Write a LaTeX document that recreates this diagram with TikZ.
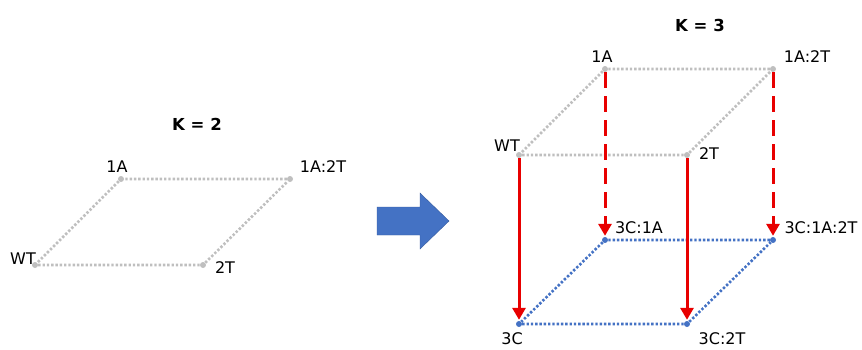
\documentclass[tikz,border=0pt]{standalone}
\usepackage{fontspec}
\setmainfont{DejaVu Sans}
\usetikzlibrary{arrows.meta}
\definecolor{edgegray}{RGB}{191,191,191}
\definecolor{cubeblue}{RGB}{68,114,196}
\definecolor{arrowblue}{RGB}{68,114,196}
\definecolor{shiftred}{RGB}{232,0,0}
\tikzset{
  lbl/.style={font=\fontsize{16}{18}\selectfont, inner sep=0pt},
  title/.style={font=\bfseries\fontsize{16.5}{19}\selectfont, inner sep=0pt},
  grayedge/.style={draw=edgegray, line width=2.6pt, dash pattern=on 2.4pt off 1.9pt},
  blueedge/.style={draw=cubeblue, line width=2.6pt, dash pattern=on 2.4pt off 1.9pt},
  graydot/.style={circle, fill=edgegray, inner sep=0pt, minimum size=6pt},
  bluedot/.style={circle, fill=cubeblue, inner sep=0pt, minimum size=6pt},
  redarrow/.style={draw=shiftred, line width=3pt, -{Triangle[width=13pt,length=12pt]}, shorten >=1pt},
  reddashed/.style={redarrow, dash pattern=on 16pt off 8pt},
}
\begin{document}
\begin{tikzpicture}[x=1pt, y=-1pt]
  \useasboundingbox (0,0) rectangle (862,349);

  % K = 2: the square face
  \node[title] (k2) at (197,124) {K = 2};
  \node[graydot] (lWT)   at (35,265)  {};
  \node[graydot] (l2T)   at (203,265) {};
  \node[graydot] (l1A)   at (121,179) {};
  \node[graydot] (l1A2T) at (290,179) {};
  \draw[grayedge] (lWT) -- (l2T) -- (l1A2T) -- (l1A) -- (lWT);
  \node[lbl] (tlWT)   at (23,259)  {WT};
  \node[lbl] (tl2T)   at (225,268) {2T};
  \node[lbl] (tl1A)   at (117,167) {1A};
  \node[lbl] (tl1A2T) at (323,167) {1A:2T};

  % block arrow
  \fill[arrowblue, draw=arrowblue!80!black, line width=0.4pt]
    (377,207) -- (420,207) -- (420,193) -- (449,221) -- (420,249) -- (420,235) -- (377,235) -- cycle;

  % K = 3: the cube
  \node[title] (k3) at (700,25) {K = 3};
  \node[graydot] (rWT)   at (519,155) {};
  \node[graydot] (r2T)   at (687,155) {};
  \node[graydot] (r1A)   at (605,69)  {};
  \node[graydot] (r1A2T) at (773,69)  {};
  \node[bluedot] (c3C)     at (519,324) {};
  \node[bluedot] (c3C2T)   at (687,324) {};
  \node[bluedot] (c3C1A)   at (605,240) {};
  \node[bluedot] (c3C1A2T) at (773,240) {};

  \draw[grayedge] (rWT) -- (r2T) -- (r1A2T) -- (r1A) -- (rWT);
  \draw[blueedge] (c3C) -- (c3C2T) -- (c3C1A2T) -- (c3C1A) -- (c3C);

  \draw[reddashed] (r1A) -- (c3C1A);
  \draw[reddashed] (r1A2T) -- (c3C1A2T);
  \draw[redarrow] (rWT) -- (c3C);
  \draw[redarrow] (r2T) -- (c3C2T);

  \node[lbl] (trWT)   at (507,146) {WT};
  \node[lbl] (tr2T)   at (709,154) {2T};
  \node[lbl] (tr1A)   at (602,57)  {1A};
  \node[lbl] (tr1A2T) at (807,57)  {1A:2T};
  \node[lbl] (tc3C1A)   at (639,228) {3C:1A};
  \node[lbl] (tc3C1A2T) at (821,228) {3C:1A:2T};
  \node[lbl] (tc3C)     at (512,339) {3C};
  \node[lbl] (tc3C2T)   at (722,339) {3C:2T};
\end{tikzpicture}
\end{document}
